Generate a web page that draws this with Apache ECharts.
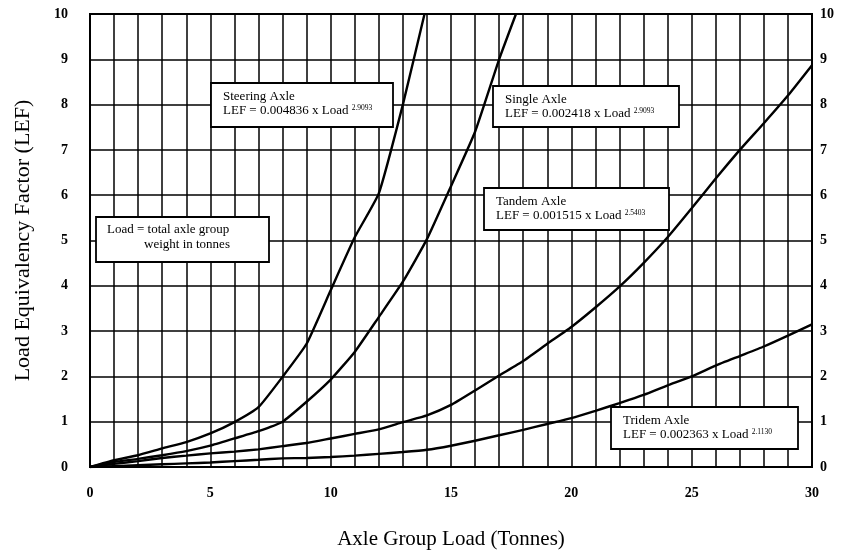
<!DOCTYPE html>
<html>
<head>
<meta charset="utf-8">
<script src="https://cdn.jsdelivr.net/npm/echarts@6/dist/echarts.min.js"></script>
<style>html,body{margin:0;padding:0;background:#fff}#c{width:842px;height:550px}</style>
</head>
<body>
<div id="c"></div>
<script>
// ---- data ----
var steeringLoad = [0, 1, 2, 3, 4, 5, 6, 7, 8, 9, 10, 11, 12, 13, 13.9];
var steeringLEF  = [0, 0.15, 0.26, 0.41, 0.55, 0.74, 0.99, 1.32, 1.99, 2.72, 3.9, 5.07, 6.04, 8.0, 10];

var singleLoad = [0, 1, 2, 3, 4, 5, 6, 7, 8, 9, 10, 11, 12, 13, 14, 15, 16, 17, 17.7];
var singleLEF  = [0, 0.11, 0.18, 0.26, 0.35, 0.47, 0.63, 0.79, 1.0, 1.44, 1.93, 2.54, 3.31, 4.09, 5.03, 6.2, 7.4, 9.0, 10];

var tandemLoad = [0, 1, 2, 3, 4, 5, 6, 7, 8, 9, 10, 11, 12, 13, 14, 15, 16, 17, 18, 19, 20, 21, 22, 23, 24, 25, 26, 27, 28, 29, 30];
var tandemLEF  = [0, 0.07, 0.13, 0.2, 0.25, 0.3, 0.34, 0.39, 0.46, 0.53, 0.63, 0.73, 0.83, 0.99, 1.14, 1.37, 1.69, 2.02, 2.34, 2.72, 3.09, 3.52, 3.98, 4.5, 5.07, 5.71, 6.37, 7.0, 7.59, 8.2, 8.87];

var tridemLoad = [0, 1, 2, 3, 4, 5, 6, 7, 8, 9, 10, 11, 12, 13, 14, 15, 16, 17, 18, 19, 20, 21, 22, 23, 24, 25, 26, 27, 28, 29, 30];
var tridemLEF  = [0, 0.02, 0.04, 0.06, 0.08, 0.1, 0.13, 0.16, 0.19, 0.2, 0.22, 0.25, 0.29, 0.33, 0.38, 0.47, 0.58, 0.7, 0.82, 0.95, 1.08, 1.24, 1.41, 1.59, 1.8, 2.0, 2.24, 2.45, 2.66, 2.9, 3.15];

var xTickLabels = [0, 5, 10, 15, 20, 25, 30];
var yTickLabels = [0, 1, 2, 3, 4, 5, 6, 7, 8, 9, 10];

var xTitle = 'Axle Group Load (Tonnes)';
var yTitle = 'Load Equivalency Factor (LEF)';

var notes = [
  {l1: 'Steering Axle', l2: 'LEF = 0.004836 x Load ', sup: '2.9093'},
  {l1: 'Single Axle', l2: 'LEF = 0.002418 x Load ', sup: '2.9093'},
  {l1: 'Tandem Axle', l2: 'LEF = 0.001515 x Load ', sup: '2.5403'},
  {l1: 'Tridem Axle', l2: 'LEF = 0.002363 x Load ', sup: '2.1130'}
];
var loadNote = ['Load = total axle group', 'weight in tonnes'];

// ---- build ----
function pairs(xs, ys) { return xs.map(function (x, i) { return [x, ys[i]]; }); }
var FONT = '"Liberation Serif", "Times New Roman", serif';

function lineSeries(name, xs, ys) {
  return {
    name: name, type: 'line', data: pairs(xs, ys), showSymbol: false, symbol: 'none',
    smooth: 0.15, clip: true,
    lineStyle: {color: '#000', width: 2.4}, z: 3
  };
}

var boxPos = [
  {x: 211, y: 83, w: 182, h: 44},
  {x: 493, y: 86, w: 186, h: 41},
  {x: 484, y: 188, w: 185, h: 42},
  {x: 611, y: 407, w: 187, h: 42}
];

var graphics = [];
boxPos.forEach(function (b, i) {
  var n = notes[i];
  graphics.push({
    type: 'rect', shape: {x: b.x, y: b.y, width: b.w, height: b.h}, z: 10,
    style: {fill: '#fff', stroke: '#000', lineWidth: 1.8}
  });
  graphics.push({
    type: 'text', x: b.x + 12, y: b.y + 7, z: 11,
    style: {
      text: '{a|' + n.l1 + '}\n{a|' + n.l2 + '}{s|' + n.sup + '}',
      rich: {
        a: {fontFamily: FONT, fontSize: 13, fill: '#000', lineHeight: 14},
        s: {fontFamily: FONT, fontSize: 7.5, fill: '#000', lineHeight: 14, verticalAlign: 'top', padding: [0, 0, 6, 0]}
      }
    }
  });
});
graphics.push({
  type: 'rect', shape: {x: 96, y: 217, width: 173, height: 45}, z: 10,
  style: {fill: '#fff', stroke: '#000', lineWidth: 1.8}
});
graphics.push({
  type: 'text', x: 107, y: 223, z: 11,
  style: {text: loadNote[0], fontFamily: FONT, fontSize: 13, fill: '#000'}
});
graphics.push({
  type: 'text', x: 144, y: 238, z: 11,
  style: {text: loadNote[1], fontFamily: FONT, fontSize: 13, fill: '#000'}
});

var chart = echarts.init(document.getElementById('c'), null, {renderer: 'canvas'});
chart.setOption({
  animation: false,
  backgroundColor: '#fff',
  grid: {left: 90, right: 30, top: 14, bottom: 83, show: true, borderColor: '#000', borderWidth: 2,
         containLabel: false, outerBoundsMode: 'none'},
  xAxis: {
    type: 'value', min: 0, max: 30, interval: 1,
    name: xTitle, nameLocation: 'middle', nameGap: 62,
    nameTextStyle: {fontFamily: FONT, fontSize: 21, color: '#000'},
    axisLine: {show: true, lineStyle: {color: '#000', width: 2}},
    axisTick: {show: false},
    axisLabel: {
      margin: 19, fontFamily: FONT, fontSize: 14, fontWeight: 'bold', color: '#000',
      formatter: function (v) { return xTickLabels.indexOf(v) >= 0 ? String(v) : ''; }
    },
    splitLine: {show: true, lineStyle: {color: '#000', width: 1.5}}
  },
  yAxis: [{
    type: 'value', min: 0, max: 10, interval: 1, position: 'left',
    name: yTitle, nameLocation: 'middle', nameGap: 56, nameRotate: 90,
    nameTextStyle: {fontFamily: FONT, fontSize: 22, color: '#000'},
    axisLine: {show: true, lineStyle: {color: '#000', width: 2}},
    axisTick: {show: false},
    axisLabel: {
      margin: 22, fontFamily: FONT, fontSize: 14, fontWeight: 'bold', color: '#000',
      formatter: function (v) { return yTickLabels.indexOf(v) >= 0 ? String(v) : ''; }
    },
    splitLine: {show: true, lineStyle: {color: '#000', width: 1.5}}
  }, {
    type: 'value', min: 0, max: 10, interval: 1, position: 'right',
    axisLine: {show: true, lineStyle: {color: '#000', width: 2}},
    axisTick: {show: false},
    axisLabel: {
      margin: 8, fontFamily: FONT, fontSize: 14, fontWeight: 'bold', color: '#000',
      formatter: function (v) { return yTickLabels.indexOf(v) >= 0 ? String(v) : ''; }
    },
    splitLine: {show: false}
  }],
  series: [
    lineSeries('Steering Axle', steeringLoad, steeringLEF),
    lineSeries('Single Axle', singleLoad, singleLEF),
    lineSeries('Tandem Axle', tandemLoad, tandemLEF),
    lineSeries('Tridem Axle', tridemLoad, tridemLEF)
  ],
  graphic: graphics
});
</script>
</body>
</html>
